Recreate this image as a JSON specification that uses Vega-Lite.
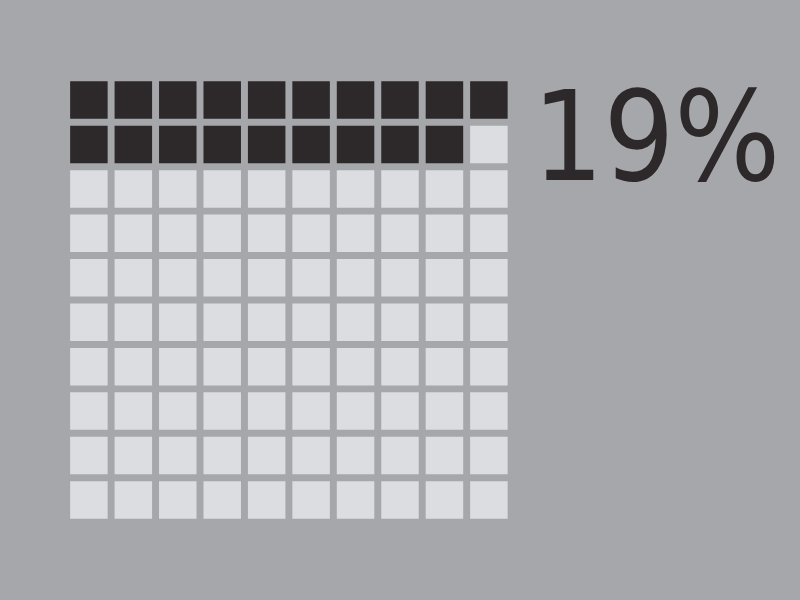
{
  "$schema": "https://vega.github.io/schema/vega-lite/v6.json",
  "description": "Waffle chart, 19 of 100",
  "width": 800,
  "height": 600,
  "autosize": {"type": "none"},
  "padding": 0,
  "background": "#a6a7aa",
  "config": {"view": {"stroke": null}},
  "datasets": {
    "cells": [
      {"col": 0, "row": 0, "status": "filled"}, {"col": 1, "row": 0, "status": "filled"}, {"col": 2, "row": 0, "status": "filled"}, {"col": 3, "row": 0, "status": "filled"}, {"col": 4, "row": 0, "status": "filled"},
      {"col": 5, "row": 0, "status": "filled"}, {"col": 6, "row": 0, "status": "filled"}, {"col": 7, "row": 0, "status": "filled"}, {"col": 8, "row": 0, "status": "filled"}, {"col": 9, "row": 0, "status": "filled"},
      {"col": 0, "row": 1, "status": "filled"}, {"col": 1, "row": 1, "status": "filled"}, {"col": 2, "row": 1, "status": "filled"}, {"col": 3, "row": 1, "status": "filled"}, {"col": 4, "row": 1, "status": "filled"},
      {"col": 5, "row": 1, "status": "filled"}, {"col": 6, "row": 1, "status": "filled"}, {"col": 7, "row": 1, "status": "filled"}, {"col": 8, "row": 1, "status": "filled"}, {"col": 9, "row": 1, "status": "empty"},
      {"col": 0, "row": 2, "status": "empty"}, {"col": 1, "row": 2, "status": "empty"}, {"col": 2, "row": 2, "status": "empty"}, {"col": 3, "row": 2, "status": "empty"}, {"col": 4, "row": 2, "status": "empty"},
      {"col": 5, "row": 2, "status": "empty"}, {"col": 6, "row": 2, "status": "empty"}, {"col": 7, "row": 2, "status": "empty"}, {"col": 8, "row": 2, "status": "empty"}, {"col": 9, "row": 2, "status": "empty"},
      {"col": 0, "row": 3, "status": "empty"}, {"col": 1, "row": 3, "status": "empty"}, {"col": 2, "row": 3, "status": "empty"}, {"col": 3, "row": 3, "status": "empty"}, {"col": 4, "row": 3, "status": "empty"},
      {"col": 5, "row": 3, "status": "empty"}, {"col": 6, "row": 3, "status": "empty"}, {"col": 7, "row": 3, "status": "empty"}, {"col": 8, "row": 3, "status": "empty"}, {"col": 9, "row": 3, "status": "empty"},
      {"col": 0, "row": 4, "status": "empty"}, {"col": 1, "row": 4, "status": "empty"}, {"col": 2, "row": 4, "status": "empty"}, {"col": 3, "row": 4, "status": "empty"}, {"col": 4, "row": 4, "status": "empty"},
      {"col": 5, "row": 4, "status": "empty"}, {"col": 6, "row": 4, "status": "empty"}, {"col": 7, "row": 4, "status": "empty"}, {"col": 8, "row": 4, "status": "empty"}, {"col": 9, "row": 4, "status": "empty"},
      {"col": 0, "row": 5, "status": "empty"}, {"col": 1, "row": 5, "status": "empty"}, {"col": 2, "row": 5, "status": "empty"}, {"col": 3, "row": 5, "status": "empty"}, {"col": 4, "row": 5, "status": "empty"},
      {"col": 5, "row": 5, "status": "empty"}, {"col": 6, "row": 5, "status": "empty"}, {"col": 7, "row": 5, "status": "empty"}, {"col": 8, "row": 5, "status": "empty"}, {"col": 9, "row": 5, "status": "empty"},
      {"col": 0, "row": 6, "status": "empty"}, {"col": 1, "row": 6, "status": "empty"}, {"col": 2, "row": 6, "status": "empty"}, {"col": 3, "row": 6, "status": "empty"}, {"col": 4, "row": 6, "status": "empty"},
      {"col": 5, "row": 6, "status": "empty"}, {"col": 6, "row": 6, "status": "empty"}, {"col": 7, "row": 6, "status": "empty"}, {"col": 8, "row": 6, "status": "empty"}, {"col": 9, "row": 6, "status": "empty"},
      {"col": 0, "row": 7, "status": "empty"}, {"col": 1, "row": 7, "status": "empty"}, {"col": 2, "row": 7, "status": "empty"}, {"col": 3, "row": 7, "status": "empty"}, {"col": 4, "row": 7, "status": "empty"},
      {"col": 5, "row": 7, "status": "empty"}, {"col": 6, "row": 7, "status": "empty"}, {"col": 7, "row": 7, "status": "empty"}, {"col": 8, "row": 7, "status": "empty"}, {"col": 9, "row": 7, "status": "empty"},
      {"col": 0, "row": 8, "status": "empty"}, {"col": 1, "row": 8, "status": "empty"}, {"col": 2, "row": 8, "status": "empty"}, {"col": 3, "row": 8, "status": "empty"}, {"col": 4, "row": 8, "status": "empty"},
      {"col": 5, "row": 8, "status": "empty"}, {"col": 6, "row": 8, "status": "empty"}, {"col": 7, "row": 8, "status": "empty"}, {"col": 8, "row": 8, "status": "empty"}, {"col": 9, "row": 8, "status": "empty"},
      {"col": 0, "row": 9, "status": "empty"}, {"col": 1, "row": 9, "status": "empty"}, {"col": 2, "row": 9, "status": "empty"}, {"col": 3, "row": 9, "status": "empty"}, {"col": 4, "row": 9, "status": "empty"},
      {"col": 5, "row": 9, "status": "empty"}, {"col": 6, "row": 9, "status": "empty"}, {"col": 7, "row": 9, "status": "empty"}, {"col": 8, "row": 9, "status": "empty"}, {"col": 9, "row": 9, "status": "empty"}
    ],
    "label": [{"text": "19%", "col": 9.98, "row": 1.8}]
  },
  "layer": [
    {
      "data": {"name": "cells"},
      "mark": {"type": "square", "size": 1406, "opacity": 1},
      "encoding": {
        "x": {"field": "col", "type": "quantitative", "scale": {"domain": [-2, 16], "nice": false, "zero": false}, "axis": null},
        "y": {"field": "row", "type": "quantitative", "scale": {"domain": [-2.25, 11.25], "nice": false, "zero": false, "reverse": true}, "axis": null},
        "color": {
          "field": "status",
          "type": "nominal",
          "scale": {"domain": ["filled", "empty"], "range": ["#2d282a", "#dcdde0"]},
          "legend": null
        }
      }
    },
    {
      "data": {"name": "label"},
      "mark": {
        "type": "text",
        "align": "left",
        "baseline": "alphabetic",
        "fontSize": 124,
        "font": "DejaVu Sans Condensed, DejaVu Sans",
        "color": "#2d282a"
      },
      "encoding": {
        "x": {"field": "col", "type": "quantitative"},
        "y": {"field": "row", "type": "quantitative"},
        "text": {"field": "text"}
      }
    }
  ]
}
